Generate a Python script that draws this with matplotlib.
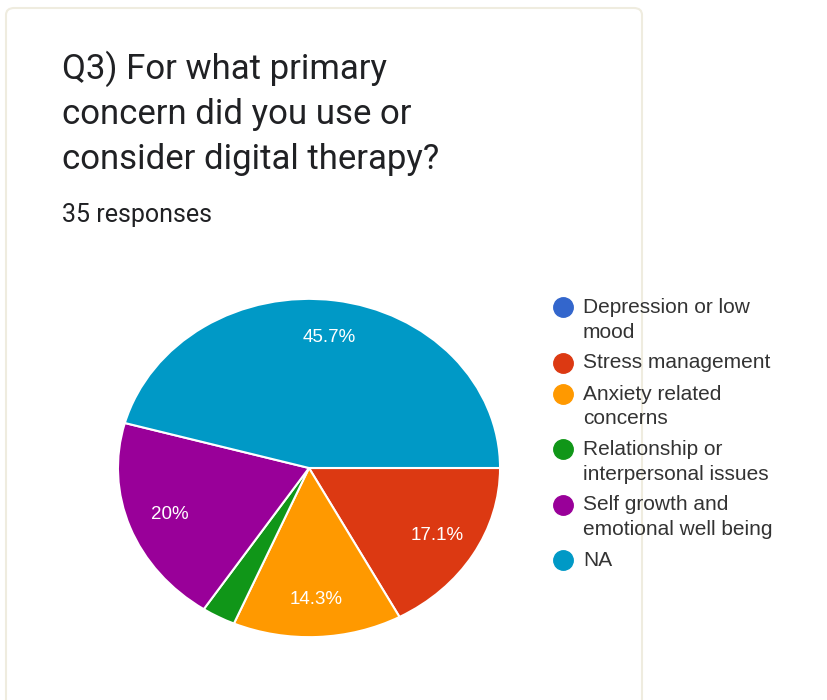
import matplotlib.pyplot as plt
from matplotlib.patches import FancyBboxPatch

# survey answers (35 responses)
categories = [
    "Depression or low\nmood",
    "Stress management",
    "Anxiety related\nconcerns",
    "Relationship or\ninterpersonal issues",
    "Self growth and\nemotional well being",
    "NA",
]
counts = [0, 6, 5, 1, 7, 16]
colors = ["#3366cc", "#dc3912", "#ff9900", "#109618", "#990099", "#0099c6"]

title = "Q3) For what primary\nconcern did you use or\nconsider digital therapy?"
n_responses = sum(counts)

W, H = 827, 700
fig = plt.figure(figsize=(W / 100, H / 100), dpi=100)
fig.patch.set_facecolor("white")


def fx(px):
    return px / W


def fy(py):
    return 1 - py / H


# card outline
card = FancyBboxPatch((fx(6), -0.05), 636 / W, 1 - 8 / H + 0.05,
                      boxstyle="round,pad=0,rounding_size=0.01",
                      transform=fig.transFigure, facecolor="white",
                      edgecolor="#efecdf", linewidth=1.5, zorder=-5)
fig.patches.append(card)

# title, one baseline per line
for i, line in enumerate(title.split("\n")):
    fig.text(fx(62), fy(79 + 45 * i), line, fontsize=25, family="Roboto",
             color="#202124", va="baseline", ha="left")
fig.text(fx(62), fy(222), f"{n_responses} responses", fontsize=18,
         family="Roboto", color="#202124", va="baseline", ha="left")

# pie (slightly wider than tall)
cx, cy, rx, ry = 309, 468, 192, 170
ax = fig.add_axes([fx(cx - rx), fy(cy + ry), 2 * rx / W, 2 * ry / H])

vals = [v for v in counts if v > 0]
cols = [c for v, c in zip(counts, colors) if v > 0]


def pct_label(p):
    if p < 5:
        return ""
    return f"{round(p, 1):g}%"


wedges, texts, autotexts = ax.pie(
    vals, colors=cols, startangle=0, counterclock=False,
    autopct=pct_label, pctdistance=0.78,
    wedgeprops=dict(edgecolor="white", linewidth=1.5),
    textprops=dict(color="white", fontsize=13.5, family="Liberation Sans"),
)
ax.set_aspect("auto")
ax.set_xlim(-1.005, 1.005)
ax.set_ylim(-1.005, 1.005)

# legend: dot lined up with the first line of each label
y = 313
for label, col in zip(categories, colors):
    fig.lines.append(plt.Line2D([fx(563)], [fy(y - 6)], marker="o", markersize=14,
                                color=col, transform=fig.transFigure))
    for line in label.split("\n"):
        fig.text(fx(583), fy(y), line, fontsize=15, family="Liberation Sans",
                 color="#333333", va="baseline", ha="left")
        y += 24.5
    y += 31 - 24.5

fig.savefig("out.png", dpi=100, facecolor="white")
